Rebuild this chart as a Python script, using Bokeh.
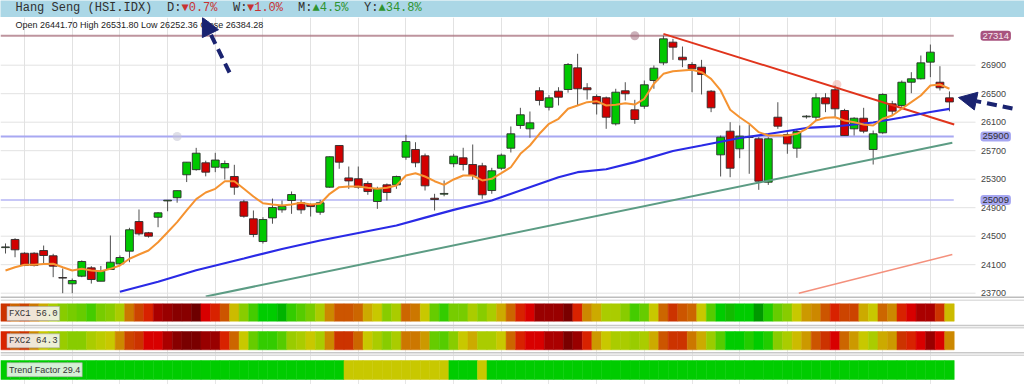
from bokeh.plotting import figure
from bokeh.layouts import column
from bokeh.models import (Range1d, ColumnDataSource, FixedTicker, Label, Arrow,
                          NormalHead, LinearColorMapper, Span)
from bokeh.transform import transform
from bokeh.core.properties import value
from bokeh.embed import file_html
from bokeh.resources import INLINE

# ---------------- data ----------------
days = list(range(100))
opens = [24340, 24454, 24261, 24261, 24299, 24225, 23920, 23832, 23939, 24056,
         23868, 24033, 24112, 24290, 24706, 24548, 24766, 24995, 25040, 25362,
         25434, 25530, 25468, 25460, 25338, 24983, 24744, 24425, 24757, 24870,
         25001, 24969, 24945, 24837, 25188, 25773, 25318, 25306, 25240, 24987,
         25221, 25221, 25609, 25717, 25628, 25033, 25090, 25517, 25600, 25506,
         25488, 25141, 25454, 25735, 26054, 26007, 26541, 26310, 26535, 26559,
         26863, 26583, 26461, 26442, 26077, 26541, 26274, 26324, 26685, 26933,
         27223, 27012, 26910, 26872, 26535, 25642, 25974, 25726, 25885, 25867,
         25258, 26170, 25927, 25735, 26175, 26170, 26442, 26555, 26264, 26007,
         26156, 25717, 25951, 26358, 26335, 26661, 26709, 26943, 26661, 26441.70]
highs = [24398, 24472, 24275, 24275, 24369, 24253, 24047, 23906, 24160, 24080,
         24082, 24510, 24230, 24618, 24875, 24560, 24837, 25010, 25139, 25539,
         25740, 25560, 25670, 25562, 25502, 25010, 24861, 24767, 25028, 25001,
         25128, 25010, 24960, 25010, 25620, 25773, 25478, 25478, 25270, 25194,
         25240, 25350, 25923, 25819, 25660, 25095, 25282, 25656, 25741, 25787,
         25530, 25460, 25660, 26040, 26302, 26250, 26591, 26480, 26591, 26930,
         27060, 26648, 26490, 26460, 26569, 26661, 26414, 26685, 26896, 27314,
         27270, 27162, 26943, 26975, 26550, 25913, 26100, 26054, 26063, 25890,
         25890, 26380, 25960, 26000, 26200, 26507, 26507, 26615, 26288, 26170,
         26302, 25983, 26507, 26400, 26685, 26802, 27036, 27190, 26886, 26531.80]
lows = [24257, 24205, 24080, 24075, 24113, 23925, 23700, 23700, 23925, 23835,
        23868, 24030, 24085, 24135, 24510, 24480, 24626, 24850, 24970, 25260,
        25420, 25340, 25399, 25296, 25081, 24760, 24486, 24397, 24675, 24830,
        24814, 24814, 24776, 24800, 25180, 25446, 25165, 25165, 25081, 24884,
        25001, 25165, 25572, 25468, 25141, 24861, 25060, 25468, 25422, 25292,
        25025, 25095, 25430, 25675, 26007, 25881, 26335, 26265, 26335, 26515,
        26335, 26418, 26208, 26007, 26054, 26405, 26077, 26288, 26569, 26900,
        26975, 26872, 26521, 26489, 26241, 25338, 25328, 25595, 25376, 25151,
        25220, 26007, 25657, 25600, 26150, 26124, 26241, 26170, 25913, 25913,
        25945, 25506, 25937, 26194, 26288, 26507, 26700, 26732, 26545, 26252.36]
closes = [24350, 24309, 24089, 24089, 24229, 24079, 23912, 23878, 24145, 23892,
          24009, 24135, 24201, 24590, 24533, 24500, 24828, 25005, 25139, 25539,
          25665, 25399, 25569, 25520, 25188, 24780, 24524, 24734, 24902, 24917,
          25085, 24870, 24917, 24969, 25615, 25539, 25276, 25188, 25127, 25165,
          25113, 25338, 25829, 25530, 25207, 25015, 25100, 25623, 25506, 25352,
          25081, 25418, 25637, 25937, 26204, 26091, 26405, 26442, 26451, 26910,
          26569, 26555, 26358, 26170, 26521, 26499, 26138, 26625, 26858, 27270,
          27153, 26975, 26849, 26769, 26302, 25890, 25454, 25904, 25895, 25272,
          25867, 26044, 25796, 25969, 26185, 26442, 26358, 26288, 25913, 26156,
          25974, 25937, 26489, 26255, 26661, 26709, 26933, 27083, 26583, 26384.28]

ma_fast = [24019, 24065, 24099, 24099, 24110, 24113, 24065, 24019, 24042, 24019,
           24009, 24042, 24089, 24183, 24243, 24299, 24416, 24556, 24697, 24861,
           25020, 25113, 25165, 25272, 25272, 25165, 25057, 24963, 24945, 24931,
           24945, 24969, 24945, 24955, 25095, 25188, 25198, 25198, 25179, 25165,
           25179, 25212, 25352, 25384, 25338, 25272, 25221, 25296, 25352, 25352,
           25282, 25306, 25384, 25468, 25656, 25773, 25937, 26078, 26148, 26288,
           26334, 26381, 26395, 26334, 26344, 26367, 26348, 26428, 26639, 26779,
           26816, 26826, 26835, 26802, 26709, 26545, 26274, 26170, 26078, 25960,
           25913, 25913, 25913, 25937, 26007, 26124, 26162, 26170, 26124, 26100,
           26068, 26054, 26148, 26194, 26288, 26381, 26475, 26615, 26629, 26569]

ma_slow_days = [12, 16, 20, 25, 29, 33, 37, 41, 44, 47, 51, 54, 58, 60, 63,
                66, 70, 73, 77, 80, 84, 87, 91, 94, 97, 99]
ma_slow = [23720, 23861, 24022, 24187, 24320, 24440, 24545, 24650, 24760, 24870,
           25001, 25141, 25328, 25398, 25440, 25539, 25696, 25773, 25878, 25934,
           26019, 26040, 26096, 26166, 26243, 26288]

price_ticks = [23700, 24100, 24500, 24900, 25300, 25700, 26100, 26500, 26900]
price_tick_labels = ["23700", "24100", "24500", "24900", "25300", "25700", "26100", "26500", "26900"]
week_ticks = [2, 7, 12, 17, 22, 27, 32, 37, 42, 47, 52, 57, 62, 67, 72, 77, 82, 87, 92, 97]

level_high = 27314
level_mid = 25900
level_low = 25009
anchor_days = [66, 18]
anchor_vals = [27314, 25900]

resist_days = [69, 99.5]
resist_vals = [27340, 26068]
resist_anchor_day = [87.2]
resist_anchor_val = [26629]
support_days = [21, 99.3]
support_vals = [23654, 25811]
support2_days = [83.2, 99.3]
support2_vals = [23700, 24243]

# heat strip levels (0 = deep red ... 28 = green)
fxc1 = [7, 10, 8, 11, 14, 18, 20, 21, 22, 24, 21, 20, 18, 11, 8, 6, 4, 3, 2, 2,
        0, 5, 6, 9, 15, 20, 24, 28, 28, 29, 25, 23, 21, 18, 12, 9, 9, 10, 14, 16,
        20, 18, 10, 11, 16, 22, 25, 21, 21, 18, 20, 18, 14, 10, 6, 5, 3, 3, 3, 1,
        6, 12, 14, 18, 18, 20, 24, 22, 16, 10, 7, 9, 10, 16, 23, 28, 27, 28, 28, 30,
        26, 22, 20, 16, 13, 12, 9, 6, 8, 8, 14, 16, 10, 12, 6, 5, 4, 4, 7, 15]
fxc2 = [6, 9, 7, 12, 16, 18, 19, 20, 20, 18, 17, 16, 12, 8, 7, 5, 5, 4, 2, 1,
        1, 3, 3, 6, 10, 16, 22, 25, 25, 23, 19, 18, 16, 18, 12, 7, 7, 10, 16, 18,
        20, 18, 11, 11, 13, 22, 23, 20, 16, 14, 18, 18, 16, 10, 6, 5, 5, 4, 4, 1,
        3, 6, 13, 16, 18, 18, 19, 18, 14, 9, 7, 7, 11, 14, 19, 23, 28, 28, 26, 28,
        26, 20, 18, 15, 13, 9, 7, 5, 10, 13, 16, 18, 14, 13, 7, 6, 5, 3, 5, 12]
trend = [28, 28, 28, 28, 28, 28, 28, 28, 28, 28, 28, 28, 28, 28, 28, 28, 28, 28, 28, 28,
         28, 28, 28, 28, 28, 28, 28, 28, 28, 28, 28, 28, 28, 28, 28, 28, 16, 16, 16, 16,
         16, 16, 16, 16, 16, 16, 16, 28, 28, 28, 16, 28, 28, 28, 28, 28, 28, 28, 28, 28,
         28, 28, 28, 28, 28, 28, 28, 28, 28, 28, 28, 28, 28, 28, 28, 28, 28, 28, 28, 28,
         28, 28, 28, 28, 28, 28, 28, 28, 28, 28, 28, 28, 28, 28, 28, 28, 28, 28, 28, 28]

palette = ["#6e0000", "#7a0000", "#880000", "#990000", "#aa0000", "#d80000", "#d82200",
           "#cc3300", "#cc4400", "#cc5500", "#cc6600", "#cc7700", "#cc8800", "#cc9900",
           "#ccaa00", "#ccbb00", "#c8c800", "#bbcc00", "#aacc00", "#99cc00", "#88cc00",
           "#77cc00", "#66cc00", "#55cc00", "#44cc00", "#33cc00", "#22cc00", "#11bb00",
           "#00cc00", "#00b400", "#009900"]

header_labels = ["Hang Seng (HSI.IDX)", "D:", "\u25bc0.7%", "W:", "\u25bc1.0%",
                 "M:", "\u25b24.5%", "Y:", "\u25b234.8%"]
header_x = [15, 166.5, 181, 232.5, 246.5, 297.5, 312, 363.5, 378]
header_colors = ["#303030", "#303030", "#c83232", "#303030", "#c83232",
                 "#303030", "#2f932f", "#303030", "#2f932f"]
ohlc_text = "Open 26441.70  High 26531.80  Low 26252.36  Close 26384.28"

# layout constants (candle units): left frame edge, end of plotting area, label column
X_START = -0.5244
X_END = 106.87
PLOT_RIGHT = 101.73
LABEL_X = 102.3

# ---------------- header ----------------
hdr = figure(frame_width=1024, frame_height=17, x_range=Range1d(0, 1024), y_range=Range1d(0, 17),
             toolbar_location=None, output_backend="svg", min_border=0,
             x_axis_location=None, y_axis_location=None,
             background_fill_color="#abd7e6", border_fill_color="#abd7e6",
             outline_line_color=None)
hdr.grid.visible = False
hsrc = ColumnDataSource(dict(x=header_x, y=[9.3] * len(header_x), t=header_labels, c=header_colors))
hdr.text(x="x", y="y", text="t", text_color="c", source=hsrc,
         text_font=value("Liberation Mono"), text_font_size="12px",
         text_baseline="middle", text_align="left")

# ---------------- main price chart ----------------
XR = Range1d(X_START, X_END)
p = figure(frame_width=1024, frame_height=282, x_range=XR, y_range=Range1d(23611.6, 27569.4),
           toolbar_location=None, output_backend="svg", min_border=0,
           x_axis_location=None, y_axis_location=None,
           outline_line_color=None, background_fill_color="white", border_fill_color="white")
p.ygrid.visible = False
p.xgrid.ticker = FixedTicker(ticks=week_ticks)
p.xgrid.grid_line_color = "#e2e2e2"

# horizontal price grid (ends where the price label column starts)
p.segment(x0=[X_START] * len(price_ticks), y0=price_ticks,
          x1=[PLOT_RIGHT] * len(price_ticks), y1=price_ticks,
          line_color="#e2e2e2", line_width=1)
p.text(x=[LABEL_X] * len(price_ticks), y=price_ticks, text=price_tick_labels,
       text_font=value("Liberation Sans"), text_font_size="9px", text_color="#444444",
       text_baseline="middle", text_align="left")
# bottom border of price panel
p.add_layout(Span(location=23644, dimension="width", line_color="#bdbdbd", line_width=1.5))

x_right = days[-1] + 0.45
p.segment(x0=[X_START], y0=[level_high], x1=[x_right], y1=[level_high],
          line_color="#a8707e", line_alpha=0.75, line_width=2)
p.segment(x0=[X_START], y0=[level_mid], x1=[x_right], y1=[level_mid],
          line_color="#a8a8f2", line_width=2)
p.segment(x0=[X_START], y0=[level_low], x1=[x_right], y1=[level_low],
          line_color="#b4b4f4", line_width=1.5)
p.scatter(x=anchor_days, y=anchor_vals, size=9, fill_color=["#a07080", "#c4c4d4"],
          fill_alpha=0.55, line_color=None)
p.scatter(x=resist_anchor_day, y=resist_anchor_val, size=9, fill_color="#f2b8b0",
          fill_alpha=0.6, line_color=None)

src = ColumnDataSource(dict(
    d=days, o=opens, h=highs, l=lows, c=closes,
    top=[max(a, b) for a, b in zip(opens, closes)],
    bot=[min(a, b) for a, b in zip(opens, closes)],
    col=["#00c800" if c >= o else "#d20000" for o, c in zip(opens, closes)]))
p.segment(x0="d", y0="l", x1="d", y1="h", source=src, line_color="#505050", line_width=1)
p.vbar(x="d", width=0.82, top="top", bottom="bot", source=src,
       fill_color="col", line_color="#2c2c2c", line_width=0.9)

p.line(support_days, support_vals, line_color="#5c9c84", line_width=2)
p.line(support2_days, support2_vals, line_color="#f4907c", line_width=1.5)
p.line(resist_days, resist_vals, line_color="#e0341c", line_width=2)
p.line(ma_slow_days, ma_slow, line_color="#2a2ae6", line_width=2.2)
p.line(days, ma_fast, line_color="#f59331", line_width=2)

p.add_layout(Label(x=15, y=275, x_units="screen", y_units="screen", text=ohlc_text,
                   text_font="Liberation Sans", text_font_size="9px",
                   text_color="#222222", text_baseline="middle"))
for val, bg, fg in [(level_high, "#9e4070", "#f6e8ef"),
                    (level_mid, "#9c9cf0", "#303030"),
                    (level_low, "#9c9cf0", "#303030")]:
    p.add_layout(Label(x=980, y=val, x_units="screen", y_units="data", text=str(val),
                       text_font="Liberation Sans", text_font_size="9.5px",
                       text_color=fg, text_baseline="middle",
                       background_fill_color=bg, background_fill_alpha=0.9,
                       padding=2, border_radius=3))

navy = "#1a2370"
p.add_layout(Arrow(end=NormalHead(size=18, fill_color=navy, line_color=navy),
                   x_start=229, y_start=227, x_end=202, y_end=282,
                   start_units="screen", end_units="screen",
                   line_color=navy, line_width=4, line_dash="10 6"))
p.add_layout(Arrow(end=NormalHead(size=18, fill_color=navy, line_color=navy),
                   x_start=1012, y_start=191, x_end=958, y_end=202,
                   start_units="screen", end_units="screen",
                   line_color=navy, line_width=4, line_dash="10 6"))

# ---------------- indicator strips ----------------
s = figure(frame_width=1024, frame_height=85, x_range=XR,
           y_range=Range1d(85, 0), toolbar_location=None, output_backend="svg",
           min_border=0, x_axis_location=None, y_axis_location=None,
           outline_line_color=None, background_fill_color="white", border_fill_color="white")
s.ygrid.visible = False
s.xgrid.ticker = FixedTicker(ticks=week_ticks)
s.xgrid.grid_line_color = "#e6e6e6"
for yy, cc in [(0.6, "#d4d4d4"), (26, "#c8c8c8"), (28.3, "#d8d8d8"),
               (53.3, "#c8c8c8"), (55.7, "#d8d8d8")]:
    s.add_layout(Span(location=yy, dimension="width", line_color=cc, line_width=1.5))

mapper = LinearColorMapper(palette=palette, low=-0.5, high=30.5)
ssrc = ColumnDataSource(dict(d=days, f1=fxc1, f2=fxc2, tf=trend))
s.rect(x="d", y=13, width=1, height=17.4, source=ssrc,
       fill_color=transform("f1", mapper), line_color=transform("f1", mapper), line_width=0.5)
s.rect(x="d", y=41.15, width=1, height=18.3, source=ssrc,
       fill_color=transform("f2", mapper), line_color=transform("f2", mapper), line_width=0.5)
s.rect(x="d", y=70.5, width=1, height=19, source=ssrc,
       fill_color=transform("tf", mapper), line_color=transform("tf", mapper), line_width=0.5)

for txt, yy, font in [("FXC1 56.0", 14, "Liberation Mono"),
                      ("FXC2 64.3", 41.3, "Liberation Mono"),
                      ("Trend Factor 29.4", 70.2, "Liberation Sans")]:
    s.add_layout(Label(x=6.5, y=yy, x_units="screen", y_units="data", text=txt,
                       text_font=font, text_font_size="9px", text_color="#333333",
                       text_baseline="middle",
                       background_fill_color="#f4f4f4", background_fill_alpha=0.88,
                       border_line_color="#aaaaaa", border_line_alpha=0.6,
                       padding=2))

layout = column(hdr, p, s, spacing=0)
open("out.html", "w").write(file_html(layout, INLINE))
